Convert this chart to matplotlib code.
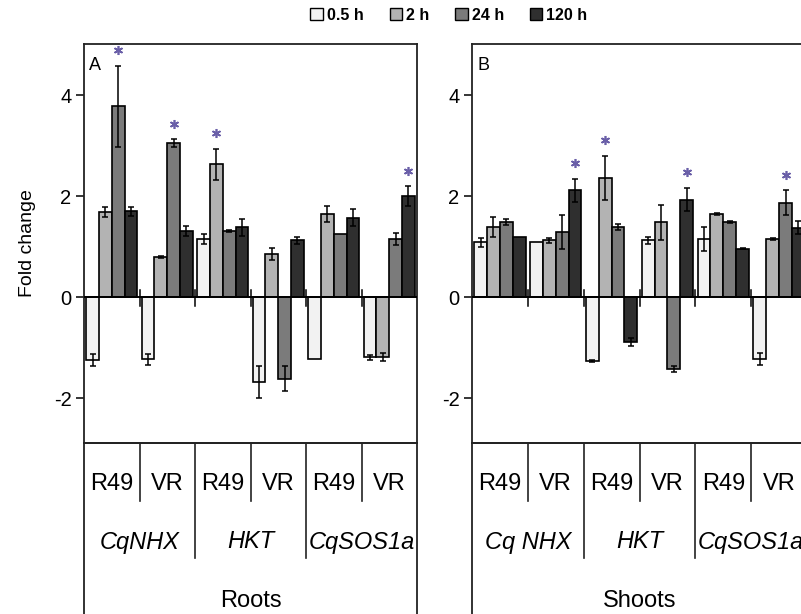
import matplotlib
matplotlib.use("Agg")
import matplotlib.pyplot as plt
from matplotlib.patches import Patch
import numpy as np

plt.rcParams['font.family'] = ['Liberation Sans', 'DejaVu Sans']

# ---------------- data ----------------
times = ["0.5 h", "2 h", "24 h", "120 h"]
lines = ["R49", "VR", "R49", "VR", "R49", "VR"]
genes_roots = ["CqNHX", "HKT", "CqSOS1a"]
genes_shoots = ["Cq NHX", "HKT", "CqSOS1a"]

roots_05 = [-1.25, -1.23, 1.15, -1.68, -1.23, -1.19]
roots_2 = [1.68, 0.79, 2.63, 0.85, 1.64, -1.19]
roots_24 = [3.78, 3.05, 1.31, -1.62, 1.25, 1.15]
roots_120 = [1.70, 1.31, 1.38, 1.12, 1.57, 2.00]
roots_err_05 = [0.12, 0.11, 0.10, 0.31, 0.0, 0.05]
roots_err_2 = [0.10, 0.02, 0.31, 0.12, 0.16, 0.08]
roots_err_24 = [0.80, 0.07, 0.02, 0.25, 0.0, 0.12]
roots_err_120 = [0.09, 0.10, 0.17, 0.07, 0.17, 0.19]
roots_star = [(0, 2), (1, 2), (2, 1), (5, 3)]

shoots_05 = [1.08, 1.09, -1.27, 1.12, 1.15, -1.22]
shoots_2 = [1.38, 1.12, 2.36, 1.48, 1.64, 1.15]
shoots_24 = [1.48, 1.29, 1.38, -1.42, 1.49, 1.87]
shoots_120 = [1.18, 2.11, -0.89, 1.93, 0.96, 1.37]
shoots_err_05 = [0.08, 0.0, 0.02, 0.06, 0.23, 0.12]
shoots_err_2 = [0.20, 0.05, 0.44, 0.35, 0.02, 0.02]
shoots_err_24 = [0.06, 0.33, 0.06, 0.06, 0.02, 0.24]
shoots_err_120 = [0.0, 0.23, 0.08, 0.23, 0.01, 0.13]
shoots_star = [(1, 3), (2, 1), (3, 3), (5, 2)]

colors = ["#f2f2f2", "#b3b3b3", "#7b7b7b", "#2f2f2f"]
star_color = "#6a5fa8"

W, H = 801, 614
fig = plt.figure(figsize=(W / 100, H / 100), dpi=100)


def fx(px):
    return px / W


def fy(py):
    return 1 - py / H


y_top_px, y_bot_px = 44, 443
bar_w = 0.23


def draw_panel(left_px, right_px, vals, errs, stars, genes, tissue, letter, show_ylabel):
    ax = fig.add_axes([fx(left_px), fy(y_bot_px), fx(right_px - left_px),
                       (y_bot_px - y_top_px) / H])
    x = np.arange(len(lines))
    for i, (v, e) in enumerate(zip(vals, errs)):
        xs = x + (i - 1.5) * bar_w
        ax.bar(xs, v, width=bar_w, color=colors[i], edgecolor="black",
               linewidth=1.2, zorder=2)
        e = np.asarray(e)
        m = e > 0
        ax.errorbar(xs[m], np.asarray(v)[m], yerr=e[m], fmt="none",
                    ecolor="black", elinewidth=1.1, capsize=2.5, capthick=1.1,
                    zorder=3)
    for g, t in stars:
        xs = g + (t - 1.5) * bar_w
        yv = vals[t][g] + errs[t][g] + 0.31
        ax.plot([xs], [yv], marker=(6, 2, 0), ms=6.5, mew=1.2,
                color=star_color, zorder=4)
    ax.axhline(0, color="black", lw=1.4, zorder=4)
    for b in np.arange(0.5, len(lines) - 0.5, 1.0):
        ax.plot([b, b], [-0.18, 0.13], color="black", lw=1.1, zorder=4)
    ax.set_xlim(-0.5, len(lines) - 0.5)
    ax.set_ylim(-2.89, 5.01)
    ax.set_yticks([-2, 0, 2, 4])
    ax.set_yticklabels(["-2", "0", "2", "4"])
    ax.set_xticks([])
    ax.tick_params(axis="y", direction="out", length=6, width=1.1,
                   labelsize=14.5, pad=3)
    for s in ax.spines.values():
        s.set_linewidth(1.3)
        s.set_color("#222222")
    ax.text(0.015, 0.967, letter, transform=ax.transAxes, fontsize=13,
            va="top", ha="left")
    if show_ylabel:
        ax.set_ylabel("Fold change", fontsize=14, labelpad=13)

    # table below
    tab_h = H - y_bot_px + 20
    tx = fig.add_axes([fx(left_px), fy(y_bot_px + tab_h), fx(right_px - left_px),
                       tab_h / H])
    tx.set_xlim(-0.5, len(lines) - 0.5)
    tx.set_ylim(tab_h, 0)
    tx.set_xticks([])
    tx.set_yticks([])
    tx.patch.set_alpha(0)
    tx.spines["bottom"].set_visible(False)
    for s in ["left", "right", "top"]:
        tx.spines[s].set_linewidth(1.3)
        tx.spines[s].set_color("#222222")
    for b in [0.5, 2.5, 4.5]:
        tx.plot([b, b], [0, 58], color="#222222", lw=1.2)
    for b in [1.5, 3.5]:
        tx.plot([b, b], [0, 115], color="#222222", lw=1.2)
    for i, lab in enumerate(lines):
        tx.text(i, 41, lab, ha="center", va="center", fontsize=17)
    for i, gname in enumerate(genes):
        tx.text(2 * i + 0.5, 99, gname, ha="center", va="center",
                fontsize=17, style="italic")
    tx.text(2.5, 158, tissue, ha="center", va="center", fontsize=17)
    return ax


draw_panel(84, 417, [roots_05, roots_2, roots_24, roots_120],
           [roots_err_05, roots_err_2, roots_err_24, roots_err_120],
           roots_star, genes_roots, "Roots", "A", True)
draw_panel(472, 807, [shoots_05, shoots_2, shoots_24, shoots_120],
           [shoots_err_05, shoots_err_2, shoots_err_24, shoots_err_120],
           shoots_star, genes_shoots, "Shoots", "B", False)

handles = [Patch(facecolor=c, edgecolor="black", linewidth=1.0) for c in colors]
fig.legend(handles, times, loc="center", bbox_to_anchor=(fx(449), fy(15)),
           ncol=4, frameon=False, handlelength=0.8,
           handleheight=0.8, handletextpad=0.25, columnspacing=1.6,
           prop={"weight": "bold", "size": 11.5})

fig.savefig("out.png", dpi=100)
